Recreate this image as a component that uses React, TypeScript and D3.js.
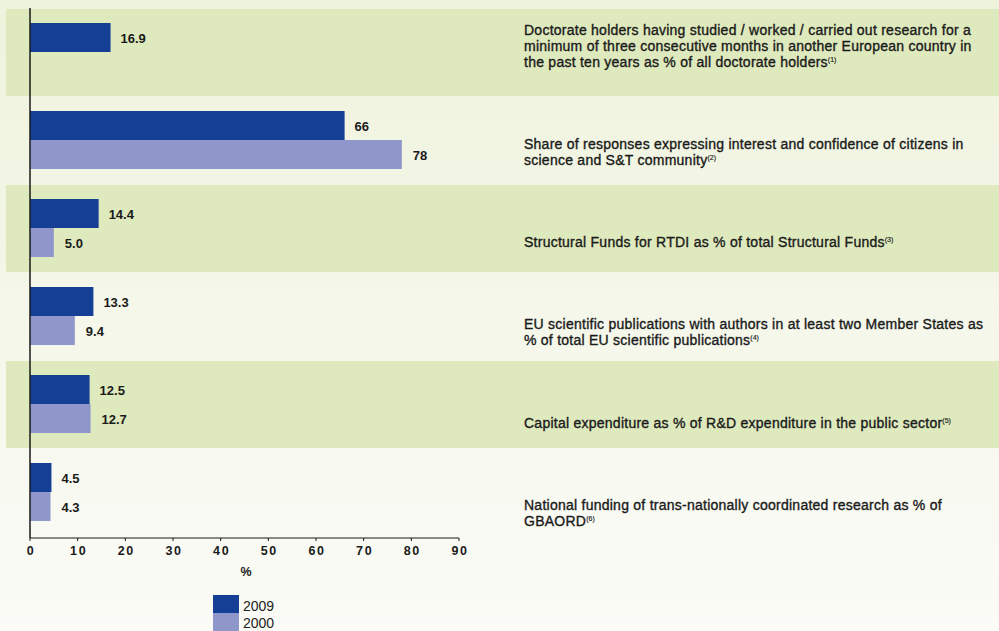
import React from "react";
import * as d3 from "d3";

const categories: string[][] = [
  [
    "Doctorate holders having studied / worked / carried out research for a",
    "minimum of three consecutive months in another European country in",
    "the past ten years as % of all doctorate holders",
  ],
  [
    "Share of responses expressing interest and confidence of citizens in",
    "science and S&T community",
  ],
  ["Structural Funds for RTDI as % of total Structural Funds"],
  [
    "EU scientific publications with authors in at least two Member States as",
    "% of total EU scientific publications",
  ],
  ["Capital expenditure as % of R&D expenditure in the public sector"],
  [
    "National funding of trans-nationally coordinated research as % of",
    "GBAORD",
  ],
];
const footnotes = ["(1)", "(2)", "(3)", "(4)", "(5)", "(6)"];
const values2009: (number | null)[] = [16.9, 66, 14.4, 13.3, 12.5, 4.5];
const values2000: (number | null)[] = [null, 78, 5.0, 9.4, 12.7, 4.3];
const labels2009 = ["16.9", "66", "14.4", "13.3", "12.5", "4.5"];
const labels2000 = ["", "78", "5.0", "9.4", "12.7", "4.3"];
const seriesNames = ["2009", "2000"];
const xTicks = [0, 10, 20, 30, 40, 50, 60, 70, 80, 90];

// layout
const W = 999;
const H = 631;
const COL_2009 = "#153f94";
const COL_2000 = "#8f96ca";
const BAND_DARK = "#dee9bd";
const labelBaselineOffset = [26, 52, 62, 56, 67, 61];
const LINE_H = 16;

export default function App() {
  const x = d3.scaleLinear().domain([0, 90]).range([30, 459]);
  const y = d3
    .scaleBand<number>()
    .domain(d3.range(categories.length))
    .range([9, 9 + 88 * categories.length])
    .paddingInner(0)
    .paddingOuter(0);
  const step = y.step();
  const barH = 29;
  const barOff = 14;
  const axisY = 538;
  const textFont = "'Liberation Sans', Arial, Helvetica, sans-serif";

  return (
    <svg
      width={W}
      height={H}
      style={{ position: "absolute", left: 0, top: 0, display: "block" }}
    >
      <defs>
        <linearGradient id="bg" x1="0" y1="0" x2="0" y2="1">
          <stop offset="0" stopColor="#eef3dc" />
          <stop offset="1" stopColor="#fbfbf7" />
        </linearGradient>
      </defs>
      <rect x={0} y={0} width={W} height={H} fill="url(#bg)" />
      {categories.map((_, i) =>
        i % 2 === 0 ? (
          <rect
            key={"band" + i}
            x={6}
            y={y(i)!}
            width={W - 6}
            height={step - 1}
            fill={BAND_DARK}
          />
        ) : null
      )}
      {/* bars */}
      {values2009.map((v, i) =>
        v == null ? null : (
          <g key={"b9" + i}>
            <rect
              x={x(0)}
              y={y(i)! + barOff}
              width={x(v) - x(0)}
              height={barH}
              fill={COL_2009}
            />
            <text
              x={x(v) + 10}
              y={y(i)! + barOff + barH / 2 + 5.5}
              fontFamily={textFont}
              fontWeight="bold"
              fontSize={13}
              fill="#1a1a1a"
            >
              {labels2009[i]}
            </text>
          </g>
        )
      )}
      {values2000.map((v, i) =>
        v == null ? null : (
          <g key={"b0" + i}>
            <rect
              x={x(0)}
              y={y(i)! + barOff + barH}
              width={x(v) - x(0)}
              height={barH}
              fill={COL_2000}
            />
            <text
              x={x(v) + 11}
              y={y(i)! + barOff + barH * 1.5 + 5.5}
              fontFamily={textFont}
              fontWeight="bold"
              fontSize={13}
              fill="#1a1a1a"
            >
              {labels2000[i]}
            </text>
          </g>
        )
      )}
      {/* axes */}
      <line x1={x(0)} x2={x(0)} y1={8} y2={axisY} stroke="#1a1a1a" strokeWidth={1.5} />
      <line x1={x(0)} x2={x(90)} y1={axisY} y2={axisY} stroke="#1a1a1a" strokeWidth={1.2} />
      {xTicks.map((t) => (
        <g key={"t" + t}>
          <line x1={x(t)} x2={x(t)} y1={axisY} y2={axisY + 3} stroke="#1a1a1a" strokeWidth={1} />
          <text
            x={x(t) + 1}
            y={axisY + 17}
            textAnchor="middle"
            fontFamily={textFont}
            fontWeight="bold"
            fontSize={12.5}
            letterSpacing={1.6}
            fill="#1a1a1a"
          >
            {t}
          </text>
        </g>
      ))}
      <text
        x={246}
        y={575.5}
        textAnchor="middle"
        fontFamily={textFont}
        fontWeight="bold"
        fontSize={12.5}
        fill="#1a1a1a"
      >
        %
      </text>
      {/* category labels */}
      {categories.map((lines, i) => (
        <text
          key={"lab" + i}
          fontFamily={textFont}
          fontSize={14}
          letterSpacing={0.25}
          fill="#1a1a1a"
          stroke="#1a1a1a"
          strokeWidth={0.35}
        >
          {lines.map((ln, j) => (
            <tspan key={j} x={524} y={y(i)! + labelBaselineOffset[i] + j * LINE_H}>
              {ln}
              {j === lines.length - 1 ? (
                <tspan fontSize={7} dy={-5} letterSpacing={0} strokeWidth={0.15}>
                  {footnotes[i]}
                </tspan>
              ) : null}
            </tspan>
          ))}
        </text>
      ))}
      {/* legend */}
      {seriesNames.map((s, k) => (
        <g key={"lg" + s}>
          <rect x={213} y={595 + k * 18} width={26} height={18} fill={k === 0 ? COL_2009 : COL_2000} />
          <text
            x={243}
            y={611 + k * 16.5}
            fontFamily={textFont}
            fontSize={14}
            fill="#222"
          >
            {s}
          </text>
        </g>
      ))}
    </svg>
  );
}
